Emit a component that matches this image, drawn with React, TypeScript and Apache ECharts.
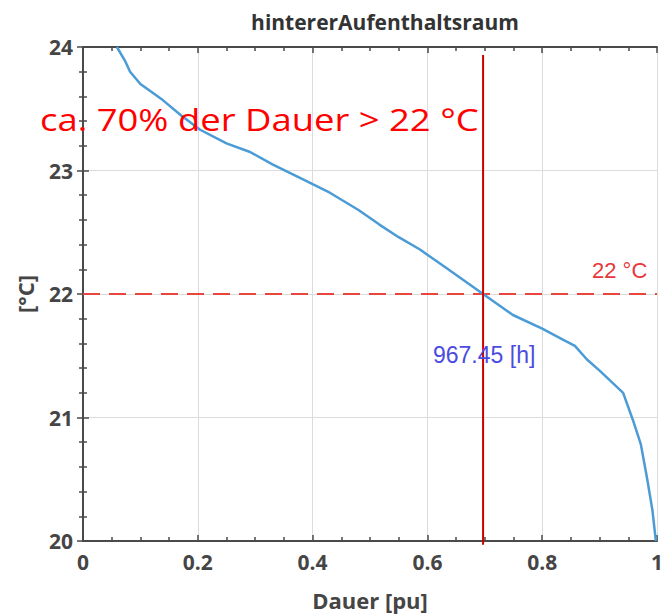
import React, { useEffect, useRef } from "react";
import * as echarts from "echarts";

const durationX = [0.059, 0.073, 0.082, 0.1, 0.139, 0.17, 0.204, 0.25, 0.291, 0.33, 0.378, 0.43, 0.48, 0.517, 0.55, 0.587, 0.63, 0.697, 0.749, 0.8, 0.836, 0.857, 0.878, 0.9, 0.918, 0.941, 0.958, 0.972, 0.983, 0.992, 0.998];
const temps = [24.0, 23.89, 23.8, 23.7, 23.57, 23.45, 23.33, 23.22, 23.15, 23.05, 22.94, 22.82, 22.68, 22.56, 22.46, 22.36, 22.22, 22.0, 21.83, 21.72, 21.63, 21.58, 21.47, 21.38, 21.3, 21.2, 20.98, 20.78, 20.5, 20.25, 20.0];
const xTicks = [0, 0.2, 0.4, 0.6, 0.8, 1];
const yTicks = [20, 21, 22, 23, 24];
const threshold = 22;
const crossX = 0.697;
const vLineY = [23.935, 19.97];
const titleText = "hintererAufenthaltsraum";
const hoursLabel = "967.45 [h]";
const thresholdLabel = "22 °C";
const noteLabel = "ca. 70% der Dauer > 22 °C";

export default function App() {
  const ref = useRef<HTMLDivElement>(null);
  useEffect(() => {
    const chart = echarts.init(ref.current!, undefined, { renderer: "svg" });
    const font = "'Open Sans', sans-serif";
    const arial = "'Liberation Sans', Arial, sans-serif";
    const axisCommon = {
      type: "value",
      axisLine: { show: true, lineStyle: { color: "#4a4a4a", width: 2 } },
      axisTick: { show: true, inside: true, length: 6, lineStyle: { color: "#4a4a4a", width: 1.5 } },
      minorTick: { show: true, length: 4, lineStyle: { color: "#4a4a4a", width: 1.5 } },
    };
    const curve = durationX.map((x, i) => [x, temps[i]]);
    chart.setOption({
      animation: false,
      backgroundColor: "#ffffff",
      grid: { left: 83, right: 9, top: 47, bottom: 75, containLabel: false, outerBoundsMode: "none" },
      xAxis: [
        {
          ...axisCommon,
          min: 0,
          max: 1,
          interval: 0.2,
          minorTick: { ...axisCommon.minorTick, splitNumber: 4 },
          axisLabel: {
            fontFamily: font, fontWeight: "bold", fontSize: 21, color: "#454545", margin: 10,
            formatter: (v: number) => {
              const r = Math.round(v * 10) / 10;
              return xTicks.includes(r) ? String(r) : "";
            },
          },
          splitLine: { show: true, lineStyle: { color: "#dcdcdc", width: 1 } },
          name: "Dauer [pu]",
          nameLocation: "middle",
          nameGap: 48,
          nameTextStyle: { fontFamily: font, fontWeight: "bold", fontSize: 22, color: "#454545" },
        },
        {
          ...axisCommon,
          position: "top",
          min: 0,
          max: 1,
          interval: 0.2,
          minorTick: { ...axisCommon.minorTick, splitNumber: 4 },
          axisLabel: { show: false },
          splitLine: { show: false },
        },
      ],
      yAxis: [
        {
          ...axisCommon,
          min: 20,
          max: 24,
          interval: 1,
          minorTick: { ...axisCommon.minorTick, splitNumber: 5 },
          axisLabel: {
            fontFamily: font, fontWeight: "bold", fontSize: 21, color: "#454545", margin: 10,
            formatter: (v: number) => (yTicks.includes(v) ? String(v) : ""),
          },
          splitLine: { show: true, lineStyle: { color: "#dcdcdc", width: 1 } },
          name: "[°C]",
          nameLocation: "middle",
          nameGap: 47,
          nameRotate: 90,
          nameTextStyle: { fontFamily: font, fontWeight: "bold", fontSize: 22, color: "#454545" },
        },
        {
          ...axisCommon,
          position: "right",
          min: 20,
          max: 24,
          interval: 1,
          minorTick: { ...axisCommon.minorTick, splitNumber: 5 },
          axisLabel: { show: false },
          splitLine: { show: false },
        },
      ],
      series: [
        {
          type: "line",
          data: [[0, threshold], [1, threshold]],
          showSymbol: false,
          symbol: "none",
          lineStyle: { color: "#e8453c", width: 2, type: [17, 9] },
          z: 2,
        },
        {
          type: "line",
          data: curve,
          showSymbol: false,
          symbol: "none",
          lineStyle: { color: "#4b9cd6", width: 2.5 },
          z: 3,
        },
        {
          type: "line",
          data: [[crossX, vLineY[0]], [crossX, vLineY[1]]],
          clip: false,
          showSymbol: false,
          symbol: "none",
          lineStyle: { color: "#cc0000", width: 2 },
          z: 4,
        },
      ],
      graphic: [
        {
          type: "text",
          x: 385,
          y: 22,
          style: { text: titleText, x: 0, y: 0, textAlign: "center", textVerticalAlign: "middle", fontFamily: font, fontWeight: "bold", fontSize: 21, fill: "#333" },
          z: 10,
        },
        {
          type: "text",
          x: 40,
          y: 119,
          scaleX: 1.175,
          style: { text: noteLabel, x: 0, y: 0, textAlign: "left", textVerticalAlign: "middle", fontFamily: font, fontSize: 31, fill: "#ff0000" },
          z: 10,
        },
        {
          type: "text",
          x: 592,
          y: 270,
          style: { text: thresholdLabel, x: 0, y: 0, textAlign: "left", textVerticalAlign: "middle", fontFamily: arial, fontSize: 22, fill: "#e8363a" },
          z: 10,
        },
        {
          type: "text",
          x: 433,
          y: 355,
          style: { text: hoursLabel, x: 0, y: 0, textAlign: "left", textVerticalAlign: "middle", fontFamily: arial, fontSize: 23, fill: "#4b4be0" },
          z: 10,
        },
      ],
    });
    return () => chart.dispose();
  }, []);
  return <div ref={ref} style={{ position: "fixed", left: 0, top: 0, width: 666, height: 616 }} />;
}
